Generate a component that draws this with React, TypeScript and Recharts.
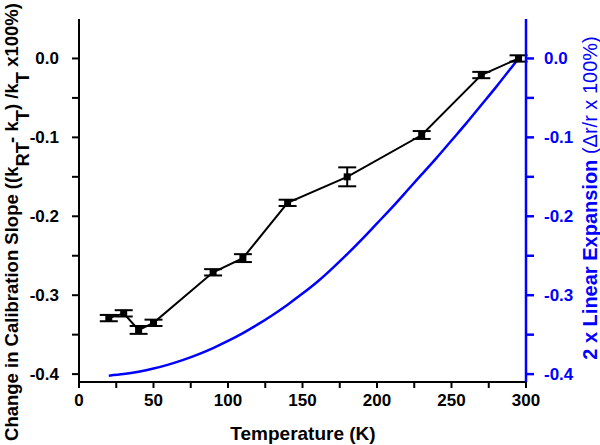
import { ComposedChart, Line, XAxis, YAxis, ErrorBar } from 'recharts';

// measured calibration slope change
const tempK = [20, 30, 40, 50, 90, 110, 140, 180, 230, 270, 295];
const slopeChange = [-0.329, -0.323, -0.344, -0.335, -0.271, -0.253, -0.183, -0.150, -0.097, -0.021, 0.0];
const slopeErr = [0.004, 0.004, 0.005, 0.004, 0.004, 0.005, 0.004, 0.012, 0.005, 0.004, 0.004];

// 2x linear thermal expansion curve
const curveT = [20, 30, 40, 50, 60, 70, 80, 90, 100, 110, 120, 130, 140, 150, 160, 170, 180, 190, 200, 210, 220, 230, 240, 250, 260, 270, 280, 290, 295];
const expansion = [-0.402, -0.400, -0.397, -0.393, -0.388, -0.382, -0.375, -0.367, -0.358, -0.348, -0.337, -0.325, -0.312, -0.298, -0.283, -0.266, -0.248, -0.229, -0.209, -0.189, -0.168, -0.147, -0.126, -0.104, -0.082, -0.059, -0.036, -0.012, 0.0];

const xTicks = [0, 25, 50, 75, 100, 125, 150, 175, 200, 225, 250, 275, 300];
const yTicks = [-0.4, -0.35, -0.3, -0.25, -0.2, -0.15, -0.1, -0.05, 0.0];

const measured = tempK.map((t, i) => ({ t, v: slopeChange[i], err: slopeErr[i] }));
const curve = curveT.map((t, i) => ({ t, e: expansion[i] }));

const FONT = '"Liberation Sans", Arial, sans-serif';
const BLUE = '#0000ff';

const fmtX = (v: number) => (v % 50 === 0 ? String(v) : '');
const fmtY = (v: number) => {
  const r = Math.round(v * 100);
  return r % 10 === 0 ? (r === 0 ? '0.0' : v.toFixed(1)) : '';
};

const SquareDot = (props: any) => {
  const { cx, cy } = props;
  if (cx == null || cy == null) return null;
  return <rect x={cx - 3.5} y={cy - 3.5} width={7} height={7} fill="#000" />;
};

export default function App() {
  return (
    <div style={{ position: 'absolute', left: 0, top: 0, width: 600, height: 445, background: '#fff' }}>
      <ComposedChart
        width={600}
        height={445}
        margin={{ top: 19, right: 0, bottom: 0, left: 0 }}
        style={{ fontFamily: FONT }}
      >
        <XAxis
          dataKey="t"
          type="number"
          domain={[0, 300]}
          ticks={xTicks}
          tickFormatter={fmtX}
          height={63}
          stroke="#000"
          strokeWidth={2}
          tickSize={6}
          tickMargin={6}
          tick={{ fill: '#000', fontSize: 17, fontWeight: 'bold' }}
          allowDataOverflow
        />
        {/* top frame line */}
        <XAxis
          xAxisId="top"
          orientation="top"
          type="number"
          domain={[0, 300]}
          height={0}
          tick={false}
          tickLine={false}
          stroke="#000"
          strokeWidth={2}
        />
        <YAxis
          yAxisId="left"
          type="number"
          domain={[-0.41, 0.05]}
          ticks={yTicks}
          tickFormatter={fmtY}
          width={79}
          stroke="#000"
          strokeWidth={2}
          tickSize={7}
          tickMargin={13}
          tick={{ fill: '#000', fontSize: 17, fontWeight: 'bold' }}
          allowDataOverflow
        />
        <YAxis
          yAxisId="right"
          orientation="right"
          type="number"
          domain={[-0.41, 0.05]}
          ticks={yTicks}
          tickFormatter={fmtY}
          width={74}
          stroke={BLUE}
          strokeWidth={2.5}
          tickSize={8}
          tickMargin={10}
          tick={{ fill: BLUE, fontSize: 17, fontWeight: 'bold' }}
          allowDataOverflow
        />
        <Line
          yAxisId="right"
          data={curve}
          dataKey="e"
          stroke={BLUE}
          strokeWidth={2.5}
          dot={false}
          type="natural"
          isAnimationActive={false}
        />
        <Line
          yAxisId="left"
          data={measured}
          dataKey="v"
          stroke="#000"
          strokeWidth={2}
          dot={<SquareDot />}
          type="linear"
          isAnimationActive={false}
        >
          <ErrorBar dataKey="err" direction="y" width={9} stroke="#000" strokeWidth={2} />
        </Line>
        <text x={303} y={440} textAnchor="middle" fontSize={19} fontWeight="bold" fill="#000">
          Temperature (K)
        </text>
        <text
          transform="translate(18, 222) rotate(-90)"
          textAnchor="middle"
          fontSize={18.5}
          fontWeight="bold"
          fill="#000"
        >
          Change in Calibration Slope ((k<tspan baselineShift="sub">RT</tspan>- k<tspan baselineShift="sub">T</tspan>) /k<tspan baselineShift="sub">T</tspan> x100%)
        </text>
        <text
          transform="translate(597, 198) rotate(-90)"
          textAnchor="middle"
          fontSize={20}
          fill={BLUE}
        >
          <tspan fontWeight="bold">2 x Linear Expansion</tspan> (Δr/r x 100%)
        </text>
      </ComposedChart>
    </div>
  );
}
